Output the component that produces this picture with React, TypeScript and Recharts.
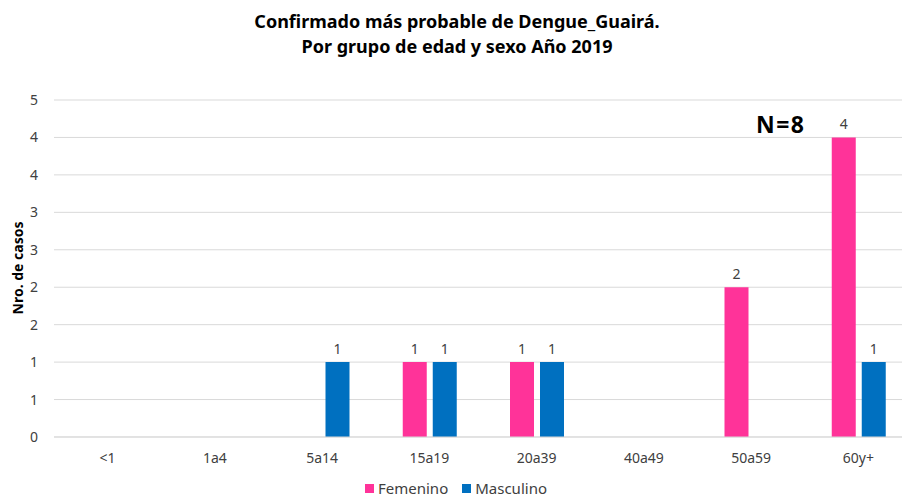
import { BarChart, Bar, XAxis, YAxis, CartesianGrid, Legend, LabelList } from 'recharts'

const grupos = ['<1', '1a4', '5a14', '15a19', '20a39', '40a49', '50a59', '60y+']
const femenino: (number | null)[] = [null, null, null, 1, 1, null, 2, 4]
const masculino: (number | null)[] = [null, null, 1, 1, 1, null, null, 1]
const yTicks = [0, 0.5, 1, 1.5, 2, 2.5, 3, 3.5, 4, 4.5]

const ROSA = '#ff3399'
const AZUL = '#0070c0'
const FONT = '"Noto Sans", "Open Sans", sans-serif'

const data = grupos.map((g, i) => ({ grupo: g, femenino: femenino[i], masculino: masculino[i] }))

function Leyenda() {
  const items = [
    { name: 'Femenino', color: ROSA },
    { name: 'Masculino', color: AZUL },
  ]
  return (
    <div style={{ height: 20, display: 'flex', justifyContent: 'center', alignItems: 'center', gap: 14, fontFamily: FONT, fontSize: 15, color: '#404040' }}>
      {items.map((it) => (
        <div key={it.name} style={{ display: 'flex', alignItems: 'center', gap: 4 }}>
          <span style={{ width: 9, height: 9, background: it.color, display: 'inline-block' }} />
          <span>{it.name}</span>
        </div>
      ))}
    </div>
  )
}

export default function App() {
  return (
    <div style={{ position: 'absolute', left: 0, top: 0, width: 902, height: 498, overflow: 'hidden', background: '#fff', fontFamily: FONT }}>
      <div style={{ position: 'absolute', left: 0, width: 914, top: 9, textAlign: 'center', fontWeight: 700, fontSize: 18, lineHeight: '25px', color: '#000' }}>
        Confirmado más probable de Dengue_Guairá.
        <br />
        Por grupo de edad y sexo Año 2019
      </div>
      <div style={{ position: 'absolute', left: 756, top: 109, fontWeight: 700, fontSize: 23, letterSpacing: 1.5, color: '#000', lineHeight: '30px' }}>N=8</div>
      <div style={{ position: 'absolute', left: 17, top: 268, transform: 'translate(-50%, -50%) rotate(-90deg)', whiteSpace: 'nowrap', fontWeight: 700, fontSize: 14, color: '#000' }}>
        Nro. de casos
      </div>
      <BarChart
        width={912}
        height={498}
        data={data}
        margin={{ top: 100, right: 0, left: 0, bottom: 11 }}
        barSize={24}
        barGap={6}
        style={{ position: 'absolute', left: 0, top: 0 }}
      >
        <CartesianGrid vertical={false} stroke="#d9d9d9" />
        <XAxis
          dataKey="grupo"
          height={30}
          axisLine={{ stroke: '#d9d9d9' }}
          tickLine={false}
          tickMargin={10}
          tick={{ fill: '#404040', fontSize: 14, fontFamily: FONT }}
        />
        <YAxis
          width={54}
          domain={[0, 4.5]}
          ticks={yTicks}
          axisLine={false}
          tickLine={false}
          tickMargin={10}
          tickFormatter={(v: number) => String(Math.round(v))}
          tick={{ fill: '#404040', fontSize: 14, fontFamily: FONT }}
        />
        <Legend verticalAlign="bottom" height={20} content={<Leyenda />} wrapperStyle={{ bottom: 0 }} />
        <Bar dataKey="femenino" name="Femenino" fill={ROSA} isAnimationActive={false}>
          <LabelList dataKey="femenino" position="top" offset={8} fill="#404040" fontSize={14} fontFamily={FONT} formatter={(v: any) => (v == null ? '' : v)} />
        </Bar>
        <Bar dataKey="masculino" name="Masculino" fill={AZUL} isAnimationActive={false}>
          <LabelList dataKey="masculino" position="top" offset={8} fill="#404040" fontSize={14} fontFamily={FONT} formatter={(v: any) => (v == null ? '' : v)} />
        </Bar>
      </BarChart>
    </div>
  )
}
